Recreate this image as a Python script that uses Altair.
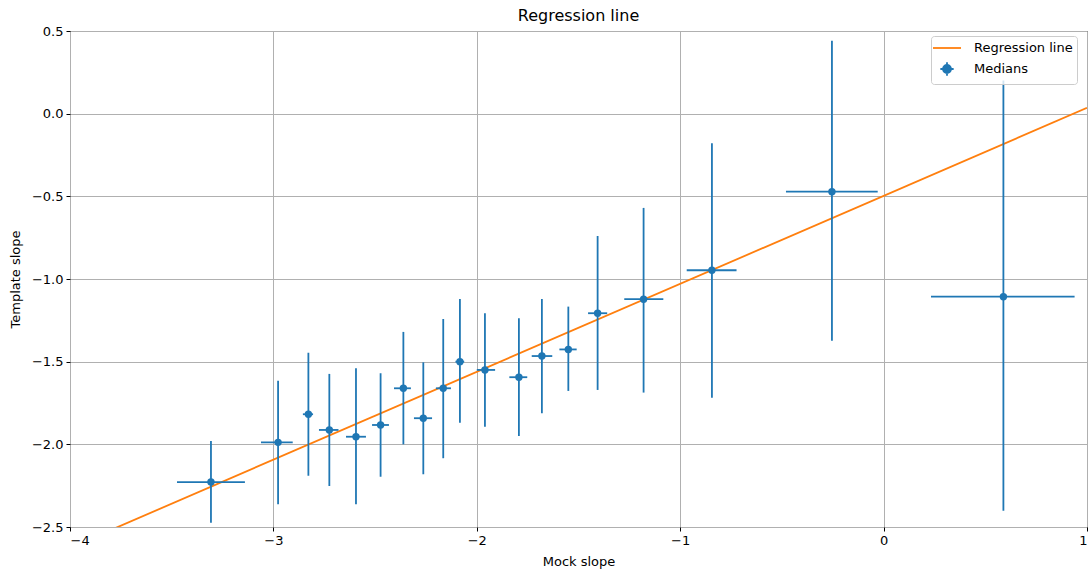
import altair as alt
import pandas as pd

# Binned medians of template slope vs mock slope, with spread in both directions
mock_median = [-3.307, -2.977, -2.828, -2.725, -2.594, -2.473, -2.361, -2.263, -2.165, -2.083,
               -1.960, -1.793, -1.680, -1.550, -1.406, -1.180, -0.844, -0.254, 0.589]
template_median = [-2.228, -1.988, -1.818, -1.913, -1.954, -1.883, -1.661, -1.842, -1.661, -1.500,
                   -1.550, -1.594, -1.466, -1.426, -1.207, -1.122, -0.947, -0.472, -1.107]
mock_low = [-3.474, -3.061, -2.855, -2.776, -2.643, -2.515, -2.407, -2.309, -2.201, -2.105,
            -2.000, -1.840, -1.730, -1.594, -1.453, -1.275, -0.968, -0.480, 0.233]
mock_high = [-3.140, -2.905, -2.805, -2.680, -2.545, -2.432, -2.324, -2.220, -2.127, -2.062,
             -1.910, -1.752, -1.629, -1.509, -1.359, -1.083, -0.723, -0.029, 0.939]
template_low = [-2.474, -2.363, -2.190, -2.252, -2.363, -2.196, -2.000, -2.181, -2.084, -1.869,
                -1.893, -1.949, -1.812, -1.677, -1.671, -1.687, -1.718, -1.373, -2.401]
template_high = [-1.980, -1.615, -1.446, -1.574, -1.540, -1.570, -1.320, -1.504, -1.242, -1.121,
                 -1.207, -1.237, -1.121, -1.167, -0.740, -0.570, -0.179, 0.441, 0.200]

# Fitted regression line, evaluated at the ends of the x range
line_x = [-4.0, 1.0]
line_y = [-2.625, 0.035]

series_names = ["Regression line", "Medians"]
series_colors = ["#ff7f0e", "#1f77b4"]
legend_shapes = [
    "M-2,0L2,0",
    "M-0.95,0L0.95,0M0,-0.95L0,0.95M0.57,0A0.57,0.57 0 1,1 -0.57,0A0.57,0.57 0 1,1 0.57,0Z",
]

FONT = "DejaVu Sans"
BLUE = "#1f77b4"

med = pd.DataFrame({
    "x": mock_median, "y": template_median,
    "xlo": mock_low, "xhi": mock_high,
    "ylo": template_low, "yhi": template_high,
})
reg = pd.DataFrame({"x": line_x, "y": line_y})
leg = pd.DataFrame({"series": series_names})

x_scale = alt.Scale(domain=[-4, 1], nice=False, zero=False)
y_scale = alt.Scale(domain=[-2.5, 0.5], nice=False, zero=False)

x_axis = alt.Axis(values=[-4, -3, -2, -1, 0, 1], format="d", title="Mock slope")
y_axis = alt.Axis(values=[-2.5, -2.0, -1.5, -1.0, -0.5, 0.0, 0.5], format=".1f",
                  title="Template slope")

base = alt.Chart(med)

vbars = base.mark_rule(color=BLUE, strokeWidth=1.8).encode(
    x=alt.X("x:Q", scale=x_scale, axis=x_axis),
    y=alt.Y("ylo:Q", scale=y_scale, axis=y_axis),
    y2="yhi:Q",
)
hbars = base.mark_rule(color=BLUE, strokeWidth=1.8).encode(
    x=alt.X("xlo:Q", scale=x_scale),
    x2="xhi:Q",
    y=alt.Y("y:Q", scale=y_scale),
)
points = base.mark_circle(color=BLUE, size=55, opacity=1).encode(
    x=alt.X("x:Q", scale=x_scale),
    y=alt.Y("y:Q", scale=y_scale),
)
line = alt.Chart(reg).mark_line(color="#ff7f0e", strokeWidth=1.8, clip=True).encode(
    x=alt.X("x:Q", scale=x_scale),
    y=alt.Y("y:Q", scale=y_scale),
)

legend_def = alt.Legend(
    title=None, orient="none", legendX=861, legendY=5,
    labelFont=FONT, labelFontSize=13, labelColor="black",
    symbolSize=196, symbolStrokeWidth=1.8, symbolOpacity=1,
    symbolOffset=4, labelOffset=19, rowPadding=3,
    padding=4, fillColor="rgba(255,255,255,0.8)", strokeColor="#cccccc",
    cornerRadius=3,
)
legend_layer = alt.Chart(leg).mark_point(filled=True, strokeWidth=1.8, opacity=1).encode(
    fill=alt.Fill("series:N", scale=alt.Scale(domain=series_names, range=series_colors),
                  legend=legend_def),
    stroke=alt.Stroke("series:N", scale=alt.Scale(domain=series_names, range=series_colors),
                      legend=legend_def),
    shape=alt.Shape("series:N", scale=alt.Scale(domain=series_names, range=legend_shapes),
                    legend=legend_def),
).transform_filter("false")

chart = alt.layer(line, vbars, hbars, points, legend_layer).properties(
    width=1017,
    height=496,
    title=alt.Title("Regression line", font=FONT, fontSize=16, fontWeight="normal",
                    color="black", offset=1),
    autosize=alt.AutoSizeParams(type="none"),
    padding={"left": 70, "top": 31, "right": 2, "bottom": 42},
).configure_view(
    stroke="black", strokeWidth=1,
).configure_axis(
    labelFont=FONT, labelFontSize=13, labelColor="black",
    titleFont=FONT, titleFontSize=13, titleFontWeight="normal", titleColor="black",
    grid=True, gridColor="#b0b0b0", gridWidth=1,
    domain=False, tickColor="black", tickSize=4, tickWidth=1, labelPadding=3,
).configure_axisX(
    titlePadding=8,
).configure_axisY(
    titlePadding=9,
)

chart.save("out.html", embed_options={"renderer": "svg", "actions": False})
